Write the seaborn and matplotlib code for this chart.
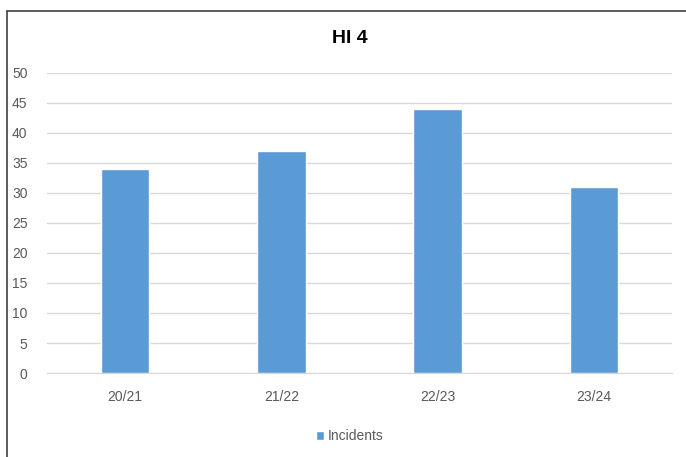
import pandas as pd
import matplotlib.pyplot as plt
import seaborn as sns
from matplotlib.patches import Patch
from matplotlib.lines import Line2D

years = ['20/21', '21/22', '22/23', '23/24']
incidents = [34, 37, 44, 31]

df = pd.DataFrame({'year': years, 'Incidents': incidents})

sns.set_style('white')
plt.rcParams['font.family'] = ['Liberation Sans', 'DejaVu Sans']

fig = plt.figure(figsize=(6.86, 4.57), dpi=100)
ax = fig.add_axes([0.0685, 0.1838, 0.911, 0.6565])

sns.barplot(data=df, x='year', y='Incidents', color='#5B9BD5', width=0.31,
            saturation=1, ax=ax, zorder=3)

ax.set_xlim(-0.5, 3.5)
ax.set_ylim(0, 50)
ax.set_yticks(range(0, 51, 5))
ax.yaxis.grid(True, color='#D9D9D9', linewidth=1)
ax.set_axisbelow(True)
for s in ['top', 'right', 'left']:
    ax.spines[s].set_visible(False)
ax.spines['bottom'].set_color('#D9D9D9')
ax.tick_params(axis='both', length=0, labelsize=10, labelcolor='#595959')
ax.tick_params(axis='y', pad=14)
ax.tick_params(axis='x', pad=12)
ax.set_xlabel('')
ax.set_ylabel('')

fig.suptitle('HI 4', x=0.51, y=0.935, fontsize=14, fontweight='bold', color='#000000')

handles = [Patch(facecolor='#5B9BD5', label='Incidents')]
fig.legend(handles=handles, loc='center', bbox_to_anchor=(0.51, 0.045), frameon=False,
           fontsize=10, labelcolor='#595959', handlelength=0.6, handleheight=0.6,
           handletextpad=0.3)

# outer chart border (left and top)
fig.add_artist(Line2D([0.0105, 0.0105], [0, 0.976], color='#404040', linewidth=1.2))
fig.add_artist(Line2D([0.0105, 1.0], [0.976, 0.976], color='#404040', linewidth=1.2))

fig.savefig('out.png', dpi=100)
